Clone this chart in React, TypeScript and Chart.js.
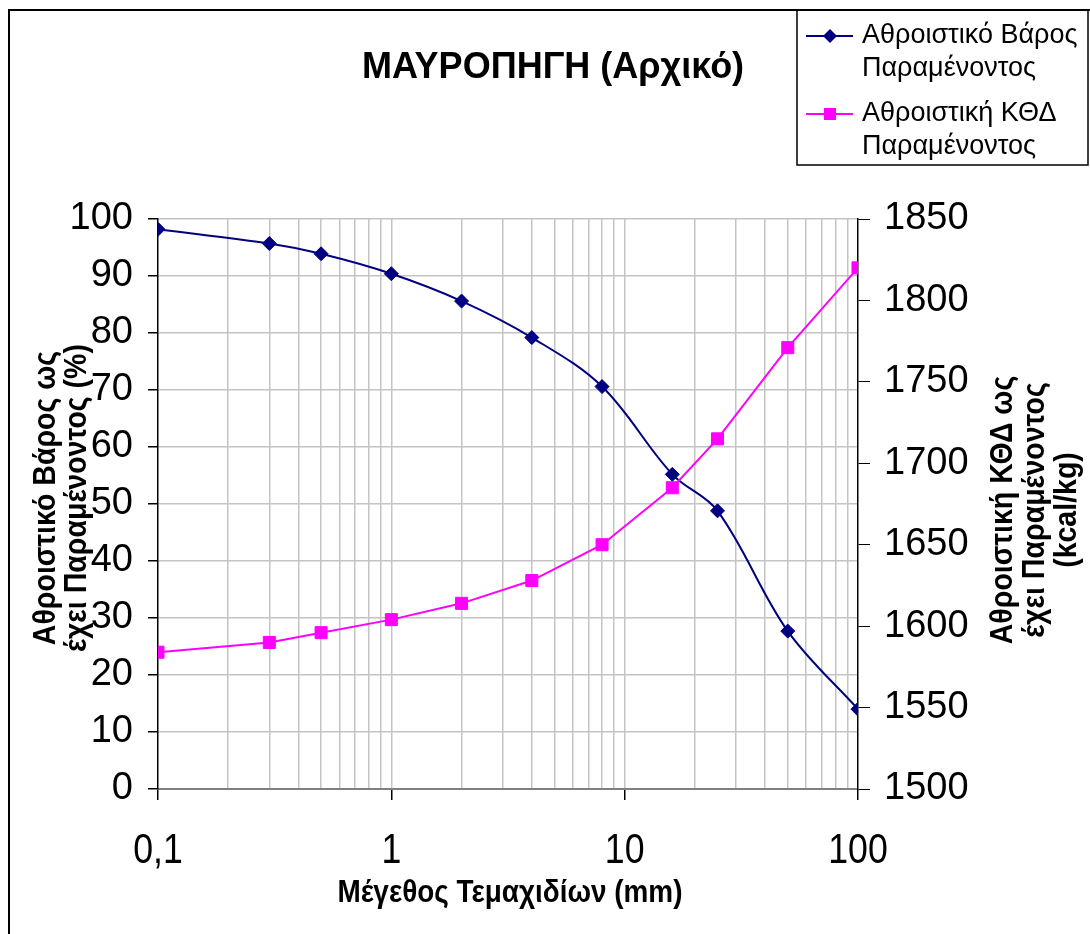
import React, { useEffect, useRef } from "react";
import { Chart, registerables } from "chart.js";

Chart.register(...registerables);

// Particle size (mm) for each sieve fraction
const sizes = [0.1, 0.3, 0.5, 1, 2, 4, 8, 16, 25, 50, 100];
// Cumulative retained weight (%)
const retainedWeight = [98.2, 95.7, 93.9, 90.4, 85.6, 79.2, 70.6, 55.2, 48.8, 27.7, 14.0];
// Cumulative retained calorific value (kcal/kg)
const retainedKcal = [1584, 1590, 1596, 1604, 1614, 1628, 1650, 1685, 1715, 1771, 1820];

const xTickValues = [0.1, 1, 10, 100];
const xTickLabels = ["0,1", "1", "10", "100"];

const chartTitle = "ΜΑΥΡΟΠΗΓΗ (Αρχικό)";
const weightLegend = ["Αθροιστικό Βάρος", "Παραμένοντος"];
const kcalLegend = ["Αθροιστική ΚΘΔ", "Παραμένοντος"];
const leftTitle = ["Αθροιστικό Βάρος ως", "έχει Παραμένοντος (%)"];
const rightTitle = ["Αθροιστική ΚΘΔ ως", "έχει Παραμένοντος", "(kcal/kg)"];
const xTitle = "Μέγεθος Τεμαχιδίων (mm)";

const FONT = '"Liberation Sans", Arial, sans-serif';
const NAVY = "#000080";
const MAGENTA = "#FF00FF";
const GRID = "#c4c4c4";

// Log grid lines: every integer multiple inside each decade
const gridValues: number[] = [];
[0.1, 1, 10].forEach((d) => {
  for (let k = 1; k <= 9; k++) gridValues.push(+(d * k).toPrecision(3));
});
gridValues.push(100);

const isDecade = (v: number) => xTickValues.some((d) => Math.abs(d - v) < 1e-9);

function drawText(
  ctx: CanvasRenderingContext2D,
  text: string,
  x: number,
  y: number,
  font: string,
  scaleAlong: number,
  rot: number,
  align: CanvasTextAlign = "center"
) {
  ctx.save();
  ctx.translate(x, y);
  ctx.rotate(rot);
  ctx.scale(scaleAlong, 1);
  ctx.font = font;
  ctx.fillStyle = "#000";
  ctx.textAlign = align;
  ctx.textBaseline = "middle";
  ctx.fillText(text, 0, 0);
  ctx.restore();
}

// legend marker: diamond or square centred on (x, y)
function drawMarker(ctx: CanvasRenderingContext2D, style: string, r: number, x: number, y: number, color: string) {
  ctx.save();
  ctx.fillStyle = color;
  ctx.beginPath();
  if (style === "rectRot") {
    ctx.moveTo(x, y - r);
    ctx.lineTo(x + r, y);
    ctx.lineTo(x, y + r);
    ctx.lineTo(x - r, y);
  } else {
    const h = r * Math.SQRT1_2;
    ctx.rect(x - h, y - h, 2 * h, 2 * h);
  }
  ctx.closePath();
  ctx.fill();
  ctx.restore();
}

const decorPlugin = {
  id: "decor",
  beforeDraw(chart: any) {
    const ctx: CanvasRenderingContext2D = chart.ctx;
    ctx.save();
    ctx.fillStyle = "#fff";
    ctx.fillRect(0, 0, chart.width, chart.height);
    // frame of the chart object
    ctx.strokeStyle = "#000";
    ctx.lineWidth = 2;
    ctx.beginPath();
    ctx.moveTo(9, chart.height + 2);
    ctx.lineTo(9, 10);
    ctx.lineTo(chart.width + 2, 10);
    ctx.stroke();
    ctx.restore();
  },
  afterDraw(chart: any) {
    const ctx: CanvasRenderingContext2D = chart.ctx;
    const xs = chart.scales.x;
    const area = chart.chartArea;

    // title
    drawText(ctx, chartTitle, 553, 68, `bold 36px ${FONT}`, 1, 0);

    // x tick labels
    xTickValues.forEach((v, i) => {
      drawText(ctx, xTickLabels[i], xs.getPixelForValue(v), 851, `42px ${FONT}`, 0.85, 0);
    });

    // axis titles
    const cx = (area.left + area.right) / 2;
    drawText(ctx, xTitle, cx + 2, 893, `bold 31px ${FONT}`, 0.9, 0);
    const tFont = `bold 31px ${FONT}`;
    leftTitle.forEach((t, i) => drawText(ctx, t, 46 + i * 31, 498, tFont, 0.92, -Math.PI / 2));
    rightTitle.forEach((t, i) => drawText(ctx, t, 1003 + i * 32, 510, tFont, 0.92, -Math.PI / 2));

    // legend
    ctx.save();
    ctx.strokeStyle = "#000";
    ctx.lineWidth = 1.5;
    ctx.strokeRect(797, 10, 291, 155);
    const entries = [
      { color: NAVY, style: "rectRot", radius: 7, lines: weightLegend, y: 36 },
      { color: MAGENTA, style: "rect", radius: 8.5, lines: kcalLegend, y: 114 },
    ];
    entries.forEach((e) => {
      ctx.strokeStyle = e.color;
      ctx.lineWidth = 2;
      ctx.beginPath();
      ctx.moveTo(806, e.y);
      ctx.lineTo(853, e.y);
      ctx.stroke();
      drawMarker(ctx, e.style, e.radius, 830, e.y, e.color);
      e.lines.forEach((t, i) => drawText(ctx, t, 862, e.y + i * 33, `27px ${FONT}`, 1, 0, "left"));
    });
    ctx.restore();
  },
};

export default function App() {
  const canvasRef = useRef<HTMLCanvasElement | null>(null);

  useEffect(() => {
    if (!canvasRef.current) return;
    const chart = new Chart(canvasRef.current, {
      type: "line",
      data: {
        datasets: [
          {
            label: weightLegend.join(" "),
            data: sizes.map((x, i) => ({ x, y: retainedWeight[i] })),
            borderColor: NAVY,
            backgroundColor: NAVY,
            borderWidth: 2,
            pointStyle: "rectRot",
            pointRadius: 7,
            pointBorderWidth: 1,
            tension: 0.35,
            yAxisID: "y",
            order: 1,
          },
          {
            label: kcalLegend.join(" "),
            data: sizes.map((x, i) => ({ x, y: retainedKcal[i] })),
            borderColor: MAGENTA,
            backgroundColor: MAGENTA,
            borderWidth: 2,
            pointStyle: "rect",
            pointRadius: 8.5,
            pointBorderWidth: 1,
            tension: 0,
            yAxisID: "y1",
            order: 0,
          },
        ],
      },
      plugins: [decorPlugin],
      options: {
        animation: false,
        responsive: false,
        devicePixelRatio: 1,
        layout: { padding: { top: 219, left: 0, right: 0, bottom: 0 } },
        plugins: {
          legend: { display: false },
          title: { display: false },
          tooltip: { enabled: false },
        },
        scales: {
          x: {
            type: "logarithmic",
            position: "bottom",
            min: 0.1,
            max: 100,
            afterBuildTicks: (s: any) => {
              s.ticks = gridValues.map((v) => ({ value: v }));
            },
            afterFit: (s: any) => {
              s.height = 145;
            },
            ticks: { display: false, autoSkip: false },
            grid: {
              color: (c: any) => {
                const v = c.tick?.value;
                return v === 0.1 || v === 100 ? "rgba(0,0,0,0)" : GRID;
              },
              lineWidth: 1.5,
              tickColor: (c: any) => (isDecade(c.tick?.value) ? "#000" : "rgba(0,0,0,0)"),
              tickLength: 11,
            },
            border: { color: "#808080", width: 2 },
          },
          y: {
            position: "left",
            min: 0,
            max: 100,
            afterFit: (s: any) => {
              s.width = 158;
            },
            ticks: {
              stepSize: 10,
              color: "#000",
              padding: 15,
              font: { family: FONT, size: 38 },
              callback: (v: any) => String(v),
            },
            grid: {
              color: (c: any) => (c.tick?.value === 0 ? "rgba(0,0,0,0)" : GRID),
              lineWidth: 1.5,
              tickColor: "#000",
              tickLength: 10,
            },
            border: { color: "#000", width: 1.5 },
          },
          y1: {
            position: "right",
            min: 1500,
            max: 1850,
            afterFit: (s: any) => {
              s.width = 232;
            },
            ticks: {
              stepSize: 50,
              color: "#000",
              padding: 14,
              font: { family: FONT, size: 38 },
              callback: (v: any) => String(v),
            },
            grid: {
              drawOnChartArea: false,
              tickColor: "#000",
              tickLength: 12,
            },
            border: { color: "#000", width: 1.5 },
          },
        },
      },
    });
    return () => chart.destroy();
  }, []);

  return (
    <div style={{ position: "absolute", left: 0, top: 0, width: 1090, height: 934 }}>
      <canvas ref={canvasRef} width={1090} height={934} style={{ width: 1090, height: 934, display: "block" }} />
    </div>
  );
}
